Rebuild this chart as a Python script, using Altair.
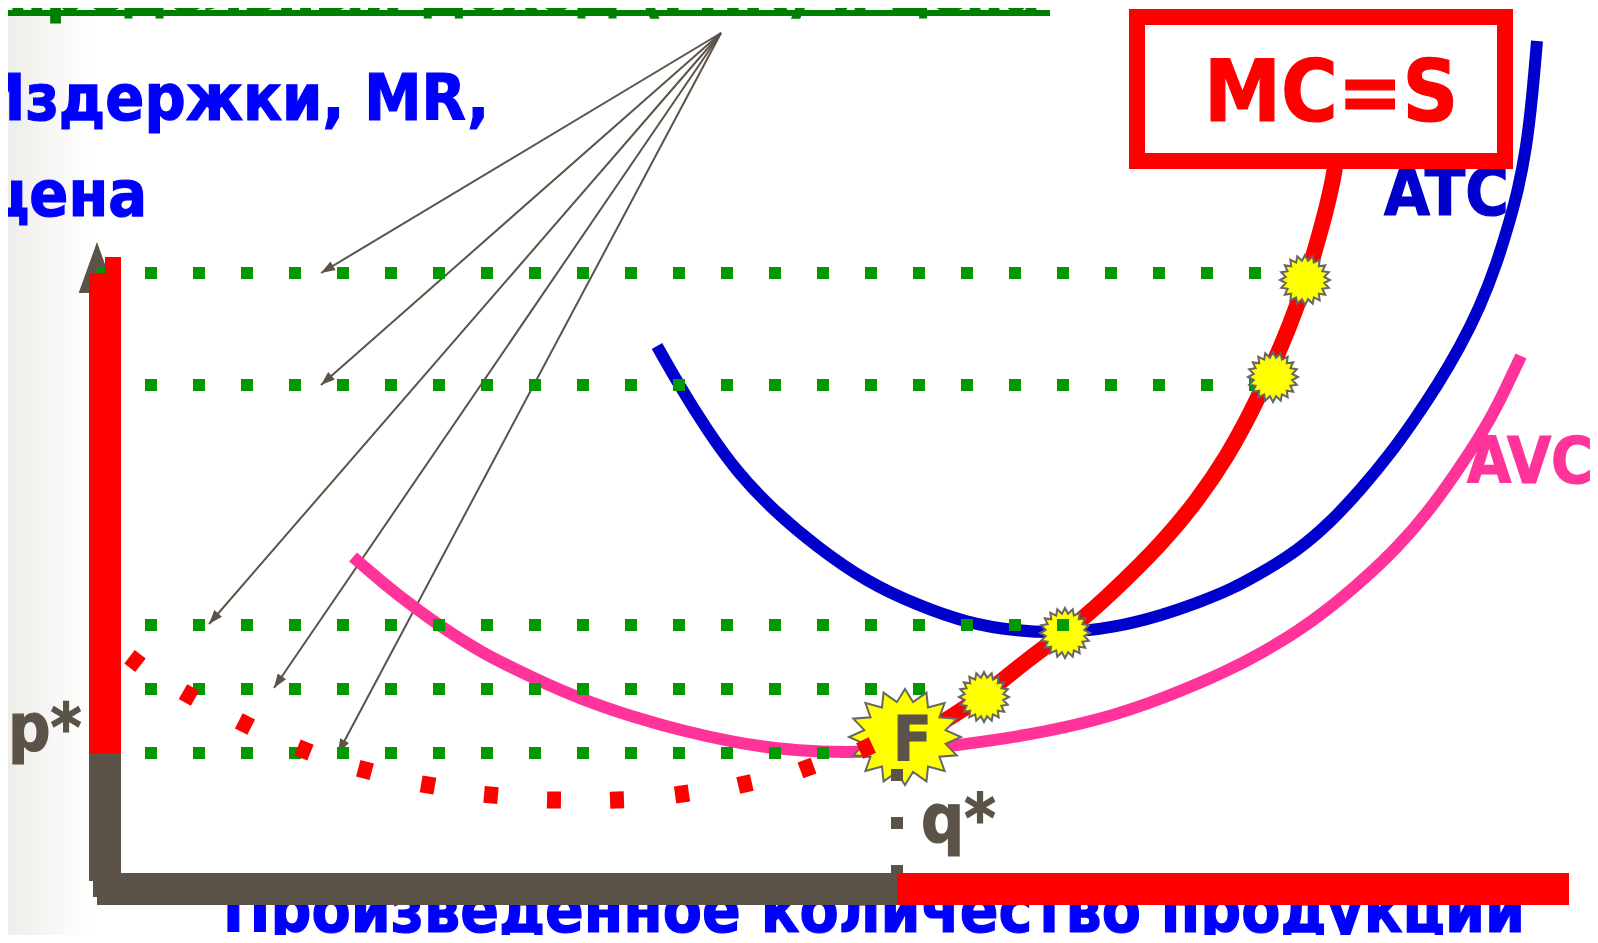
import math
import altair as alt
import pandas as pd

# Curves (reference pixel coordinates used as the quantity / cost scales)
ATC_X = [657, 679, 707, 737, 773, 817, 867, 917, 967, 1015, 1063, 1113, 1163, 1197, 1230, 1263, 1297, 1330, 1363, 1390, 1413, 1437, 1460, 1480, 1497, 1510, 1518, 1526, 1532, 1537]
ATC_Y = [346, 385, 430, 472, 510, 547, 582, 605, 623, 631, 633, 628, 615, 603, 590, 572, 551, 523, 487, 454, 422, 386, 347, 307, 263, 220, 190, 150, 100, 41]
AVC_X = [353, 383, 415, 440, 480, 535, 583, 633, 683, 733, 777, 823, 860, 905, 960, 1030, 1100, 1165, 1230, 1263, 1297, 1330, 1363, 1397, 1430, 1463, 1490, 1505, 1521]
AVC_Y = [557, 583, 608, 626, 652, 679, 700, 717, 731, 742, 749, 752, 752, 751, 745, 735, 720, 698, 670, 652, 632, 608, 580, 548, 510, 463, 420, 390, 356]
MC_X = [905, 920, 950, 985, 1027, 1063, 1085, 1123, 1163, 1197, 1227, 1253, 1273, 1290, 1305, 1318, 1328, 1335, 1337]
MC_Y = [745, 735, 718, 695, 660, 634, 617, 582, 542, 501, 457, 409, 365, 325, 284, 240, 203, 170, 150]

# Dashed falling part of MC
MC_DOT_X = [135, 189, 245, 304, 365, 428, 491, 554, 617, 682, 745, 807, 866]
MC_DOT_Y = [661, 695, 724, 750, 770, 785, 795, 800, 800, 794, 784, 768, 748]
MC_DOT_A = [38, 30, 27, 22, 15, 10, 5, 1, 358, 352, 347, 340, 335]

# Green dotted price levels
LEVEL_Y = [273, 385, 625, 689, 753]
LEVEL_X1 = [97, 145, 145, 145, 145]
LEVEL_X2 = [1261, 1261, 1069, 925, 829]

# Thin arrows
ARROW_SRC = (721, 33)
ARROW_X = [321, 321, 209, 274, 338]
ARROW_Y = [273, 385, 624, 688, 753]

# Stars
STAR_X = [1305, 1273, 1065, 984]
STAR_Y = [280, 377, 633, 697]

# Labels
LABELS = [
    ("Издержки, MR,", 489, 120, 64, "#0000FF", "right"),
    ("цена", 147, 216, 64, "#0000FF", "right"),
    ("p*", 8, 750, 66, "#5B5347", "left"),
    ("q*", 921, 842, 67, "#5B5347", "left"),
]
BOTTOM_LABEL = "Произведенное количество продукции"
TITLE_LABEL = "предельный доход (ГПК) и цена"

GRAY = "#5B5347"
RED = "#FF0000"
GREEN = "#009900"
BLUE = "#0000CC"
PINK = "#FF3399"
FONT = "DejaVu Sans Condensed"

W, H = 1582, 927
XS = alt.Scale(domain=[8, 8 + W])
YS = alt.Scale(domain=[8 + H, 8])


def X(f="x"):
    return alt.X(f"{f}:Q", scale=XS, axis=None)


def Y(f="y"):
    return alt.Y(f"{f}:Q", scale=YS, axis=None)


def curve(xs, ys, color, width):
    d = pd.DataFrame({"x": xs, "y": ys})
    return alt.Chart(d).mark_line(color=color, strokeWidth=width, interpolate="basis", strokeCap="butt", clip=False).encode(X(), Y())


def box(x1, x2, y1, y2, **kw):
    d = pd.DataFrame({"x": [x1], "x2": [x2], "y": [y1], "y2": [y2]})
    return alt.Chart(d).mark_rect(**kw).encode(X(), alt.X2("x2:Q"), Y(), alt.Y2("y2:Q"))


def text(s, x, y, size, color, align="left"):
    d = pd.DataFrame({"x": [x], "y": [y], "t": [s]})
    return alt.Chart(d).mark_text(font=FONT, fontWeight="bold", fontSize=size, color=color, stroke=color, strokeWidth=1.2,
                                  align=align, baseline="alphabetic").encode(X(), Y(), text="t:N")


def hline(y, x1, x2):
    d = pd.DataFrame({"x": [x1], "x2": [x2], "y": [y]})
    return alt.Chart(d).mark_rule(color=GREEN, strokeWidth=12, strokeDash=[12, 36]).encode(X(), alt.X2("x2:Q"), Y())


def star_path(n, inner, aspect=1.0):
    pts = []
    for i in range(2 * n):
        r = 1 if i % 2 == 0 else inner
        a = math.pi * i / n
        pts.append(f"{r * math.sin(a):.4f},{-r * math.cos(a) * aspect:.4f}")
    return "M" + " L".join(pts) + " Z"


WEDGE = "M0,0 L-0.36,1 L0.36,1 Z"
DASH = "M-0.82,-1 L0.82,-1 L0.82,1 L-0.82,1 Z"


def wedge(x, y, angle, length, color=GRAY):
    d = pd.DataFrame({"x": [x], "y": [y]})
    return alt.Chart(d).mark_point(shape=WEDGE, size=(2 * length) ** 2, angle=angle, filled=True, opacity=1, color=color, strokeWidth=0).encode(X(), Y())


layers = []
# left fade
layers.append(box(8, 92, 8, 8 + H, color=alt.LinearGradient(gradient="linear", x1=0, x2=1, y1=0, y2=0,
              stops=[alt.GradientStop(offset=0, color="#EFEDE9"), alt.GradientStop(offset=1, color="#FFFFFF")])))
# title fragment
layers.append(text(TITLE_LABEL, 1040, 10, 60.5, "#008000", "right"))
layers.append(box(8, 1050, 10, 16, color="#008000"))
# labels
for s, x, y, size, c, a in LABELS:
    layers.append(text(s, x, y, size, c, a))
layers.append(text(BOTTOM_LABEL, 1525, 932, 63.5, "#0000FF", "right"))
layers.append(text("ATC", 1384, 215, 66, BLUE))
layers.append(text("AVC", 1467, 483, 63.5, PINK))

# axis arrow heads
layers.append(wedge(97, 242, 0, 51))
layers.append(wedge(1598, 897, 270, 36))

# thin arrows
arrows = pd.DataFrame({"x": [ARROW_SRC[0]] * 5, "y": [ARROW_SRC[1]] * 5, "x2": ARROW_X, "y2": ARROW_Y})
layers.append(alt.Chart(arrows).mark_rule(color=GRAY, strokeWidth=2).encode(X(), alt.X2("x2:Q"), Y(), alt.Y2("y2:Q")))
for ax, ay in zip(ARROW_X, ARROW_Y):
    ang = math.degrees(math.atan2(ax - ARROW_SRC[0], -(ay - ARROW_SRC[1]))) % 360
    layers.append(wedge(ax, ay, ang, 14))

# curves
layers.append(curve(AVC_X, AVC_Y, PINK, 12))
layers.append(curve(ATC_X, ATC_Y, BLUE, 12))
layers.append(curve(MC_X, MC_Y, RED, 16))

# top green levels, then stars, then lower levels
for i in (0, 1):
    layers.append(hline(LEVEL_Y[i], LEVEL_X1[i], LEVEL_X2[i]))
stars = pd.DataFrame({"x": STAR_X, "y": STAR_Y})
layers.append(alt.Chart(stars).mark_point(shape=star_path(20, 0.78), size=50 ** 2, filled=True, opacity=1, fill="#FFFF00", stroke="#666666", strokeWidth=2).encode(X(), Y()))
for i in (2, 3, 4):
    layers.append(hline(LEVEL_Y[i], LEVEL_X1[i], LEVEL_X2[i]))

# F star
fstar = pd.DataFrame({"x": [905], "y": [737]})
layers.append(alt.Chart(fstar).mark_point(shape=star_path(16, 0.74, 48 / 56), size=112 ** 2, filled=True, opacity=1, fill="#FFFF00", stroke="#666666", strokeWidth=2).encode(X(), Y()))
layers.append(text("F", 893, 760, 63, GRAY))

# price / quantity axes
layers.append(box(89, 121, 753, 881, color=GRAY))
layers.append(box(93, 897, 873, 897, color=GRAY))
layers.append(box(97, 897, 873, 905, color=GRAY))
layers.append(box(89, 121, 273, 753, color=RED))
layers.append(box(105, 121, 257, 280, color=RED))
layers.append(box(897, 1569, 873, 905, color=RED))

# q* drop line
drop = pd.DataFrame({"x": [897], "y": [769], "y2": [873]})
layers.append(alt.Chart(drop).mark_rule(color=GRAY, strokeWidth=12, strokeDash=[12, 36]).encode(X(), Y(), alt.Y2("y2:Q")))

# dashed MC
dots = pd.DataFrame({"x": MC_DOT_X, "y": MC_DOT_Y, "a": MC_DOT_A})
layers.append(alt.Chart(dots).mark_point(shape=DASH, size=17 ** 2, filled=True, opacity=1, color=RED, strokeWidth=0).encode(
    X(), Y(), angle=alt.Angle("a:Q", scale=None)))

# MC=S box
layers.append(box(1137, 1505, 17, 161, fill="#FFFFFF", stroke=RED, strokeWidth=16))
layers.append(text("MC=S", 1204, 121, 86, RED))

chart = alt.layer(*layers).properties(
    width=W, height=H, padding=0, autosize=alt.AutoSizeParams(type="none")
).configure_view(stroke=None).resolve_scale(x="shared", y="shared")

chart.save("out.html", embed_options={"renderer": "svg", "actions": False})
